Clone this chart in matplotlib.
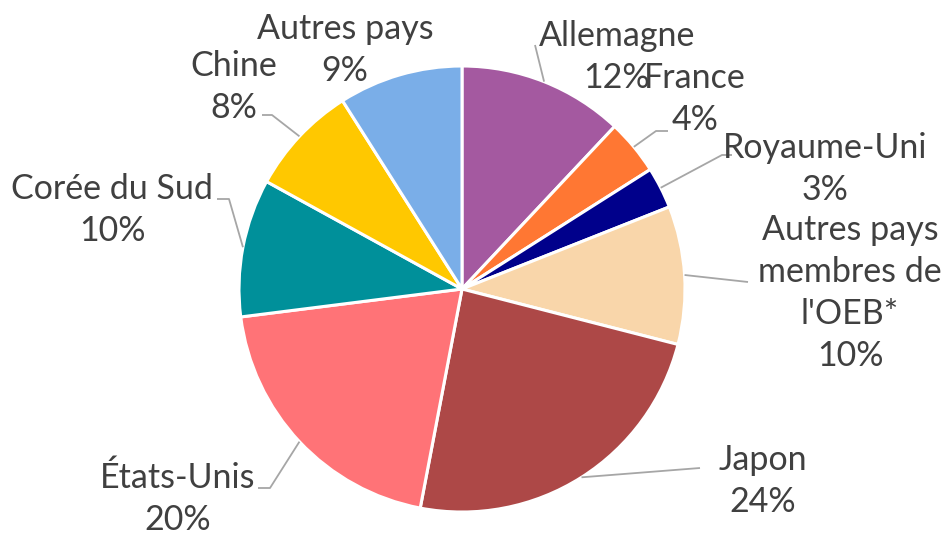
import numpy as np
import matplotlib.pyplot as plt

# Répartition des demandes par pays d'origine
pays = ['Allemagne', 'France', 'Royaume-Uni', "Autres pays\nmembres de\nl'OEB*",
        'Japon', 'États-Unis', 'Corée du Sud', 'Chine', 'Autres pays']
parts = [12, 4, 3, 10, 24, 20, 10, 8, 9]
couleurs = ['#A459A0', '#FF7733', '#00008B', '#F9D6AA', '#AD4847',
            '#FF7377', '#00909A', '#FFC800', '#7AAEE8']

W, H = 946, 537
plt.rcParams['font.family'] = ['Lato', 'DejaVu Sans']

fig = plt.figure(figsize=(W / 100, H / 100), dpi=100)
ax = fig.add_axes([0, 0, 1, 1])


def px(x, y):
    # pixel coords (origin top-left) -> data coords
    return x, H - y


cx, cy = px(462, 289)
R = 223
explode = [0.03 if p == 'Japon' else 0 for p in pays]

wedges, _ = ax.pie(parts, colors=couleurs, startangle=90, counterclock=False,
                   center=(cx, cy), radius=R, explode=explode,
                   wedgeprops=dict(edgecolor='white', linewidth=2.2))
ax.set_xlim(0, W)
ax.set_ylim(0, H)
ax.set_aspect('equal')
ax.axis('off')

# label block centres and leader-line elbows, in pixels
label_pos = [(617, 57), (695, 99), (825, 169), (850, 293),
             (763, 481), (178, 499), (112, 210), (234, 87), (345, 50)]
leaders = [[(535, 45)],
           [(656, 131), (668, 131)],
           [(722, 155), (732, 155)],
           [(748, 282)],
           [(700, 468)],
           [(270, 488), (258, 488)],
           [(229, 199), (217, 199)],
           [(272, 115), (262, 115)],
           []]

for w, nom, val, pos, pts in zip(wedges, pays, parts, label_pos, leaders):
    ang = np.deg2rad((w.theta1 + w.theta2) / 2)
    x0 = w.center[0] + w.r * np.cos(ang)
    y0 = w.center[1] + w.r * np.sin(ang)
    if pts:
        xs = [x0] + [px(*p)[0] for p in pts]
        ys = [y0] + [px(*p)[1] for p in pts]
        ax.plot(xs, ys, color='#A6A6A6', lw=1.3, solid_capstyle='butt')
    ax.text(*px(*pos), f'{nom}\n{val}%', ha='center', va='center',
            fontsize=24.5, color='#404040', linespacing=1.38)

fig.savefig('out.png', dpi=100)
